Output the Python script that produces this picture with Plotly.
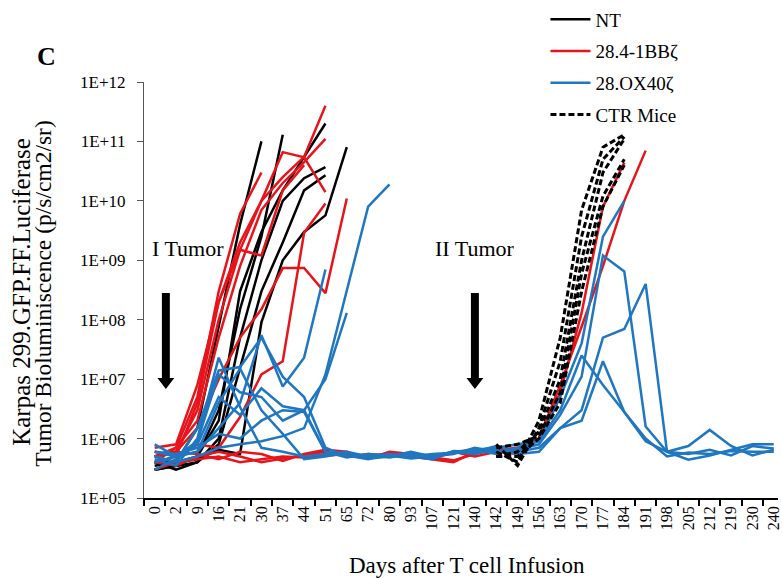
import plotly.graph_objects as go

N = None
days = ["0", "2", "9", "16", "21", "30", "37", "44", "51", "65", "72", "80", "93", "107",
        "121", "140", "142", "149", "156", "163", "170", "177", "184", "191", "198", "205",
        "212", "219", "230", "240"]
y_tick_vals = [1e5, 1e6, 1e7, 1e8, 1e9, 1e10, 1e11, 1e12]
y_tick_text = ["1E+05", "1E+06", "1E+07", "1E+08", "1E+09", "1E+10", "1E+11", "1E+12"]

# NT mice (untransduced T cells)
nt_mice = [
    [3.5e5, 4e5, 1.5e6, 8e7, 4e9, 1e11],
    [3e5, 3.5e5, 5e5, 3e6, 1.5e8, 2.5e9, 1.3e11],
    [4e5, 4e5, 5e5, 2e6, 3e8, 3e9, 1.5e10, 5.5e10, 2e11],
    [4e5, 3e5, 4e5, 1e6, 5e7, 1e9, 1e10, 2.4e10, 3.7e10],
    [3e5, 3.5e5, 4e5, 8e5, 1.5e7, 3e8, 2e9, 1.5e10, 2.7e10],
    [3e5, 4e5, 4.5e5, 6.5e5, 5.5e5, 9e7, 1e9, 3e9, 5.7e9, 8e10],
]

# 28.4-1BBz CAR-T mice
bb_mice = [
    [5e5, 6e5, 3e6, 1e8, 1.5e9, 1e10, 2.5e10, 5.5e10, 4e11],
    [4e5, 7e5, 2e6, 5e7, 8e8, 7e9, 2e10, 4.5e10, 1.1e11],
    [6e5, 5e5, 4e6, 2e8, 2e9, 1e10, 6.6e10, 5.4e10, 1.4e10],
    [4e5, 5e5, 8e5, 7e5, 2.3e6, 1.2e7, 2e7, 2.9e9, 9e9],
    [5e5, 6e5, 1.5e6, 1e7, 5e7, 1.5e8, 7.4e8, 7.4e8, 2.8e8, 1.1e10],
    [5e5, 7e5, 5e6, 3e8, 6e9, 3e10],
    [7e5, 8e5, 8e6, 2e8, 1.5e9, 1.2e9, 1.5e10, 4e10],
    [3e5, 4e5, 4.5e5, 5e5, 4e5, 4.5e5, 5e5, 4.8e5, 5.2e5, 5.5e5, 5e5, 5.6e5, 5e5, 4.5e5,
     4e5, 6e5, 6.5e5, 7e5, 1e6, 6e6, 1.3e8, 8e9, 4.4e10],
    [4e5, 3.5e5, 5e5, 6e5, 5e5, 4e5, 4.6e5, 5.3e5, 6e5, 5e5, 5.5e5, 5.2e5, 5.8e5, 4.8e5,
     4.3e5, 5.5e5, 7e5, 6e5, 1e6, 8e6, 7.6e7, 8e8, 1e10, 7e10],
    [5e5, 6e5, 5.5e5, 4.5e5, 6e5, 5.5e5, 4.2e5, 5.5e5, 6.5e5, 6e5, 4.6e5, 6e5, 5.5e5, 5e5,
     6e5, 5e5, 6e5, 5.5e5],
]

# 28.OX40z CAR-T mice
ox40_mice = [
    [5e5, 4e5, 5e5, 7e5, 8e5, 9e5, 1.1e6, 1.5e6, 1.2e7, 3e8, 8e9, 1.9e10],
    [6e5, 5e5, 6e5, 1.5e6, 4e6, 5.5e7, 7.5e6, 2.3e7, 7e8],
    [4e5, 5e5, 9e5, 1.2e7, 6e6, 5e6, 2e6, 3e6, 1e7, 1.3e8],
    [4.5e5, 3.5e5, 1e6, 2.3e7, 3.4e6, 7e5, 6e5, 5e5, 5.5e5, 6e5, 5e5, 5.5e5, 5e5, 4.5e5,
     6e5, 6.5e5, 7e5, 8e5, 9e5, 5e6, 4e7, 2.5e9, 1e10],
    [8e5, 5e5, 6e5, 4e6, 1.5e7, 3e6, 1.2e6, 4.5e5, 5e5, 5.8e5, 4.6e5, 5e5, 6e5, 5e5, 5.5e5,
     7e5, 6e5, 6.5e5, 8e5, 2.5e6, 1.1e7, 1.2e9, 6.5e8, 1.6e6, 6e5, 7.5e5, 1.4e6, 7.5e5,
     5.2e5, 6.5e5],
    [5e5, 4e5, 1.5e6, 1.4e7, 1.6e7, 5e7, 1.1e7, 5e6, 7e5, 5e5, 5.3e5, 4.8e5, 5.5e5, 4.6e5,
     6.2e5, 6e5, 7.5e5, 6e5, 7e5, 1.5e6, 3e6, 5e7, 7e7, 4e8, 6e5, 4.4e5, 5.2e5, 6.5e5,
     8e5, 8e5],
    [3e5, 4.5e5, 8e5, 5e6, 2.5e6, 7e6, 3.5e6, 3e6, 6e5, 5.2e5, 4.5e5, 5.5e5, 5e5, 5.5e5,
     5.8e5, 6.5e5, 5.5e5, 7e5, 9e5, 3e6, 2.5e7, 8e6, 2.8e6, 9e5, 6e5, 5.5e5, 6.5e5, 5.2e5,
     7.5e5, 6.8e5],
    [6e5, 5.5e5, 7e5, 1.2e6, 1e6, 2e6, 3e6, 2.8e6, 6e5, 4.8e5, 5.5e5, 5.2e5, 4.6e5, 5e5,
     6e5, 5.5e5, 6.5e5, 5.5e5, 6e5, 1.5e6, 2e6, 2e7, 2.8e6, 1e6, 5e5, 5.8e5, 5.5e5, 6.2e5,
     6e5, 6e5],
]

# Control mice (second tumor challenge only, from day 142)
ctr_mice = [
    [N] * 16 + [6e5, 4e5, 2e6, 5e7, 7e9, 8e10, 1.3e11],
    [N] * 16 + [8e5, 3.5e5, 1.5e6, 2e7, 2.5e9, 5e10, 1.2e11],
    [N] * 16 + [5e5, 6e5, 1.3e6, 1e7, 1e9, 3e10, 1.1e11],
    [N] * 16 + [7e5, 8e5, 1.1e6, 6e6, 6e8, 1.2e10, 5e10],
    [N] * 16 + [5e5, 5e5, 1e6, 4e6, 3e8, 8e9, 4e10],
]

SERIF = "Liberation Serif, Times New Roman, serif"
W, H = 782, 578
L, R, T, B = 144, 0, 82, 80
PW, PH = W - L - R, H - T - B


def px(xp):
    return (xp - L) / PW


def py(yp):
    return (H - B - yp) / PH


fig = go.Figure()
groups = [
    ("NT", nt_mice, "#000000", "solid", 2.5),
    ("28.4-1BBζ", bb_mice, "#e8141b", "solid", 2.5),
    ("28.OX40ζ", ox40_mice, "#1f77c1", "solid", 2.5),
    ("CTR Mice", ctr_mice, "#000000", "6px,3px", 3),
]
for name, series, color, dash, w in groups:
    for k, vals in enumerate(series):
        yv = list(vals) + [N] * (len(days) - len(vals))
        fig.add_trace(go.Scatter(
            x=days, y=yv, mode="lines", name=name, legendgroup=name,
            showlegend=(k == 0),
            line=dict(color=color, width=w, dash=dash),
            hoverinfo="skip",
        ))

fig.update_layout(
    width=W, height=H,
    margin=dict(l=L, r=R, t=T, b=B, pad=0),
    paper_bgcolor="white", plot_bgcolor="white",
    font=dict(family=SERIF, color="#000000"),
    showlegend=True,
    legend=dict(
        x=px(548), y=py(0.5), xanchor="left", yanchor="top",
        bgcolor="rgba(255,255,255,1)", borderwidth=0,
        font=dict(family=SERIF, size=19, color="#000000"),
        traceorder="grouped", tracegroupgap=4, itemwidth=40,
    ),
    xaxis=dict(
        type="category", categoryorder="array", categoryarray=days,
        range=[-0.5, 29.2], tickson="boundaries", ticks="outside", ticklen=6,
        tickcolor="#000000", tickwidth=1.5, tickangle=-90,
        tickfont=dict(family=SERIF, size=16, color="#000000"),
        showline=True, linecolor="#000000", linewidth=1.5,
        showgrid=False, zeroline=False,
    ),
    yaxis=dict(
        type="log", range=[5, 12], tickmode="array",
        tickvals=y_tick_vals, ticktext=y_tick_text,
        ticks="outside", ticklen=6, tickcolor="#555555", tickwidth=1.2,
        ticklabelstandoff=8,
        tickfont=dict(family=SERIF, size=17, color="#000000"),
        showline=True, linecolor="#555555", linewidth=1.2,
        showgrid=False, zeroline=False,
    ),
)

ann = [
    dict(text="<b>C</b>", x=px(46), y=py(56), font=dict(size=26)),
    dict(text="I Tumor", x=px(188), y=py(248), font=dict(size=22)),
    dict(text="II Tumor", x=px(477), y=py(248), font=dict(size=22)),
    dict(text="Karpas 299.GFP.FF.Luciferase", x=px(20), y=py(292), textangle=-90,
         font=dict(size=25)),
    dict(text="Tumor Bioluminiscence (p/s/cm2/sr)", x=px(42), y=py(294), textangle=-90,
         font=dict(size=23.5)),
    dict(text="Days after T cell Infusion", x=px(469), y=py(565), font=dict(size=23)),
]
for a in ann:
    a.update(xref="paper", yref="paper", showarrow=False, xanchor="center",
             yanchor="middle")
    a["font"].update(family=SERIF, color="#000000")
    fig.add_annotation(**a)


def arrow_path(cx, top, head_start, tip, shaft_w=8, head_w=17):
    pts = [
        (cx - shaft_w / 2, top), (cx + shaft_w / 2, top),
        (cx + shaft_w / 2, head_start), (cx + head_w / 2, head_start),
        (cx, tip), (cx - head_w / 2, head_start), (cx - shaft_w / 2, head_start),
    ]
    return "M " + " L ".join(f"{px(a):.5f},{py(b):.5f}" for a, b in pts) + " Z"


for cx in (166, 477):
    fig.add_shape(type="path", xref="paper", yref="paper",
                  path=arrow_path(cx, 293, 378, 389),
                  fillcolor="#000000", line=dict(color="#000000", width=0))

fig.write_html("out.html", config={"displayModeBar": False},
               post_script="document.body.style.margin='0px';document.body.style.overflow='hidden';")
